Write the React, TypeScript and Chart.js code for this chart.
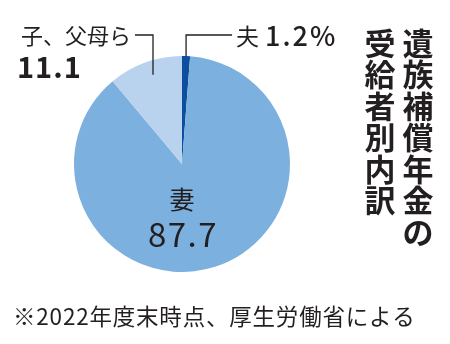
import React, { useEffect, useRef } from "react";
import { Chart, registerables } from "chart.js";

Chart.register(...registerables);

// Recipients of survivors' compensation pension, share in percent
const categories = ["夫", "妻", "子、父母ら"];
const shares = [1.2, 87.7, 11.1];
const sliceColors = ["#0d4f9e", "#7cb0de", "#b9d2ee"];
const titleColumns = ["遺族補償年金の", "受給者別内訳"];
const footnote = "※2022年度末時点、厚生労働省による";

const FONT = '"Noto Sans CJK JP", "Noto Sans", sans-serif';
const INK = "#231f20";

const valueText = (i: number) => shares[i].toFixed(1) + (i === 0 ? "%" : "");

const labelPlugin = {
  id: "pieLabels",
  afterDraw(chart: any) {
    const ctx = chart.ctx as CanvasRenderingContext2D;
    const arcs = chart.getDatasetMeta(0).data;
    const husband = arcs[0];
    const wife = arcs[1];
    const kids = arcs[2];
    const cx = wife.x;
    const cy = wife.y;
    const r = wife.outerRadius;

    ctx.save();
    ctx.fillStyle = INK;
    ctx.strokeStyle = INK;
    ctx.lineWidth = 1.3;
    ctx.textBaseline = "middle";

    const lineY = cy - r - 21;

    // leader for the husband slice
    const hMid = (husband.startAngle + husband.endAngle) / 2;
    const hx = cx + r * Math.cos(hMid);
    const hy = cy + r * Math.sin(hMid);
    ctx.beginPath();
    ctx.moveTo(hx, hy);
    ctx.lineTo(hx, lineY);
    ctx.lineTo(hx + 46, lineY);
    ctx.stroke();

    ctx.textAlign = "left";
    ctx.font = `400 23px ${FONT}`;
    ctx.fillText(categories[0], hx + 50, lineY + 1);
    ctx.font = `500 27px ${FONT}`;
    (ctx as any).letterSpacing = "2px";
    ctx.fillText(valueText(0), hx + 79, lineY + 1);
    (ctx as any).letterSpacing = "0px";

    // leader for the children / parents slice
    const kMid = (kids.startAngle + kids.endAngle) / 2 + 0.035;
    const kx = cx + r * 0.87 * Math.cos(kMid);
    const ky = cy + r * 0.87 * Math.sin(kMid);
    ctx.beginPath();
    ctx.moveTo(kx, ky);
    ctx.lineTo(kx, lineY);
    ctx.lineTo(kx - 18, lineY);
    ctx.stroke();

    ctx.textAlign = "right";
    ctx.font = `400 22px ${FONT}`;
    ctx.fillText(categories[2], kx - 22, lineY + 1);
    ctx.textAlign = "left";
    ctx.font = `700 29px ${FONT}`;
    (ctx as any).letterSpacing = "1px";
    ctx.fillText(valueText(2), 17, lineY + 32);
    (ctx as any).letterSpacing = "0px";

    // wife slice label inside the pie
    ctx.textAlign = "center";
    ctx.font = `400 25px ${FONT}`;
    ctx.fillText(categories[1], cx, cy + 35);
    ctx.font = `400 33px ${FONT}`;
    (ctx as any).letterSpacing = "1.5px";
    ctx.fillText(valueText(1), cx + 1, cy + 70);
    (ctx as any).letterSpacing = "0px";

    // vertical title, right column read first
    ctx.font = `700 31px ${FONT}`;
    const colX = [418, 380];
    titleColumns.forEach((col, c) => {
      Array.from(col).forEach((ch, i) => {
        ctx.fillText(ch, colX[c], 43 + i * 31.5);
      });
    });

    // source note
    ctx.textAlign = "left";
    ctx.font = `400 22.5px ${FONT}`;
    (ctx as any).letterSpacing = "0.8px";
    ctx.fillText(footnote, 13, 316);
    (ctx as any).letterSpacing = "0px";
    ctx.restore();
  },
};

export default function App() {
  const canvasRef = useRef<HTMLCanvasElement | null>(null);

  useEffect(() => {
    if (!canvasRef.current) return;
    const chart = new Chart(canvasRef.current, {
      type: "pie",
      data: {
        labels: categories,
        datasets: [
          {
            data: shares,
            backgroundColor: sliceColors,
            borderWidth: 0,
          },
        ],
      },
      options: {
        responsive: false,
        animation: false,
        events: [],
        layout: { padding: { left: 74, right: 160, top: 56, bottom: 72 } },
        plugins: {
          legend: { display: false },
          tooltip: { enabled: false },
          title: { display: false },
        },
      },
      plugins: [labelPlugin],
    });
    return () => chart.destroy();
  }, []);

  return (
    <div style={{ position: "absolute", left: 0, top: 0, width: 450, height: 344, background: "#ffffff" }}>
      <canvas ref={canvasRef} width={450} height={344} />
    </div>
  );
}
